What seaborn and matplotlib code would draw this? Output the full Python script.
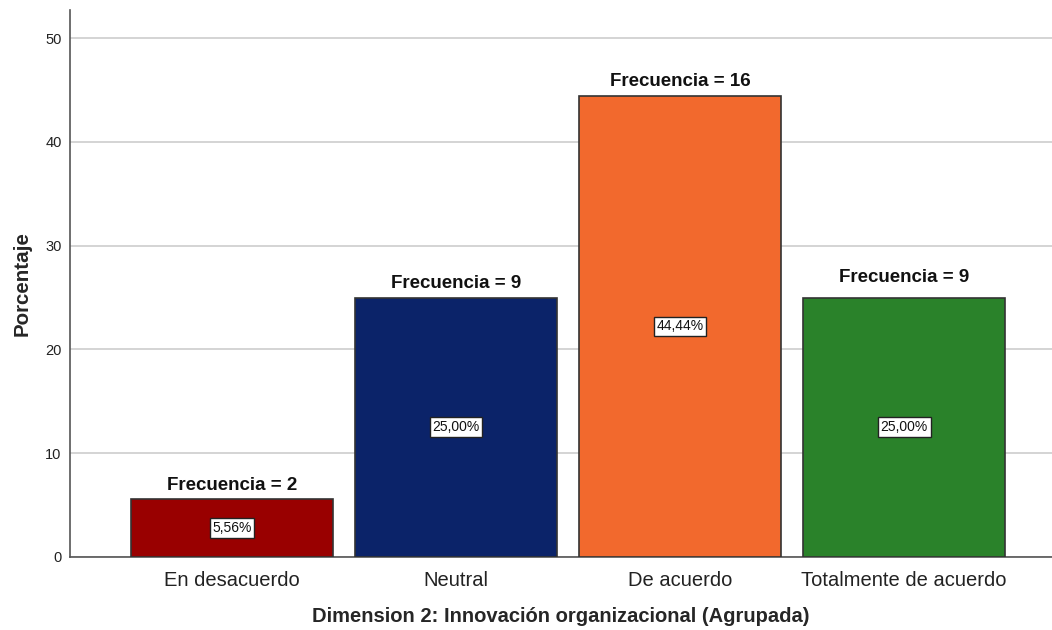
import matplotlib
matplotlib.use("Agg")
import matplotlib.pyplot as plt
import seaborn as sns
import pandas as pd

categories = ["En desacuerdo", "Neutral", "De acuerdo", "Totalmente de acuerdo"]
percentages = [5.56, 25.00, 44.44, 25.00]
frequencies = [2, 9, 16, 9]
bar_colors = ["#990000", "#0b2369", "#f2692d", "#2a822a"]
y_ticks = [0, 10, 20, 30, 40, 50]

sns.set_theme(style="white")
plt.rcParams["font.family"] = ["Liberation Sans", "DejaVu Sans"]

df = pd.DataFrame({"cat": categories, "pct": percentages})

fig = plt.figure(figsize=(10.52, 6.30), dpi=100)
ax = fig.add_axes([70 / 1052, 73 / 630, 982 / 1052, 547 / 630])

sns.barplot(data=df, x="cat", y="pct", hue="cat", palette=bar_colors,
            saturation=1, width=0.9, edgecolor="#333333", linewidth=1.2,
            legend=False, ax=ax, zorder=3)

ax.set_xlim(-0.723, 3.66)
ax.set_ylim(0, 52.7)
ax.set_yticks(y_ticks)
ax.set_yticklabels([str(t) for t in y_ticks], fontsize=10.5, color="#222222")
ax.tick_params(axis="x", labelsize=14.5, labelcolor="#222222", length=0, pad=10)
ax.tick_params(axis="y", length=0, pad=6)
ax.yaxis.grid(True, color="#d4d4d4", linewidth=1.4, zorder=0)
ax.set_axisbelow(True)

for side in ["top", "right"]:
    ax.spines[side].set_visible(False)
for side in ["left", "bottom"]:
    ax.spines[side].set_color("#555555")
    ax.spines[side].set_linewidth(1.2)

ax.set_xlabel("Dimension 2: Innovación organizacional (Agrupada)",
              fontsize=14.5, fontweight="bold", labelpad=12)
ax.set_ylabel("Porcentaje", fontsize=14.8, fontweight="bold", labelpad=10)

# frequency labels above bars and percentage boxes inside bars
freq_offsets = [0.5, 0.55, 0.6, 1.15]
for i, (p, f) in enumerate(zip(percentages, frequencies)):
    ax.text(i, p + freq_offsets[i], f"Frecuencia = {f}", ha="center", va="bottom",
            fontsize=13.5, fontweight="bold", color="#111111", zorder=5)
    ax.text(i, p / 2, f"{p:.2f}%".replace(".", ","), ha="center", va="center",
            fontsize=10, color="#111111", zorder=5,
            bbox=dict(boxstyle="square,pad=0.2", facecolor="white",
                      edgecolor="#222222", linewidth=1.0))

fig.savefig("out.png", dpi=100)
